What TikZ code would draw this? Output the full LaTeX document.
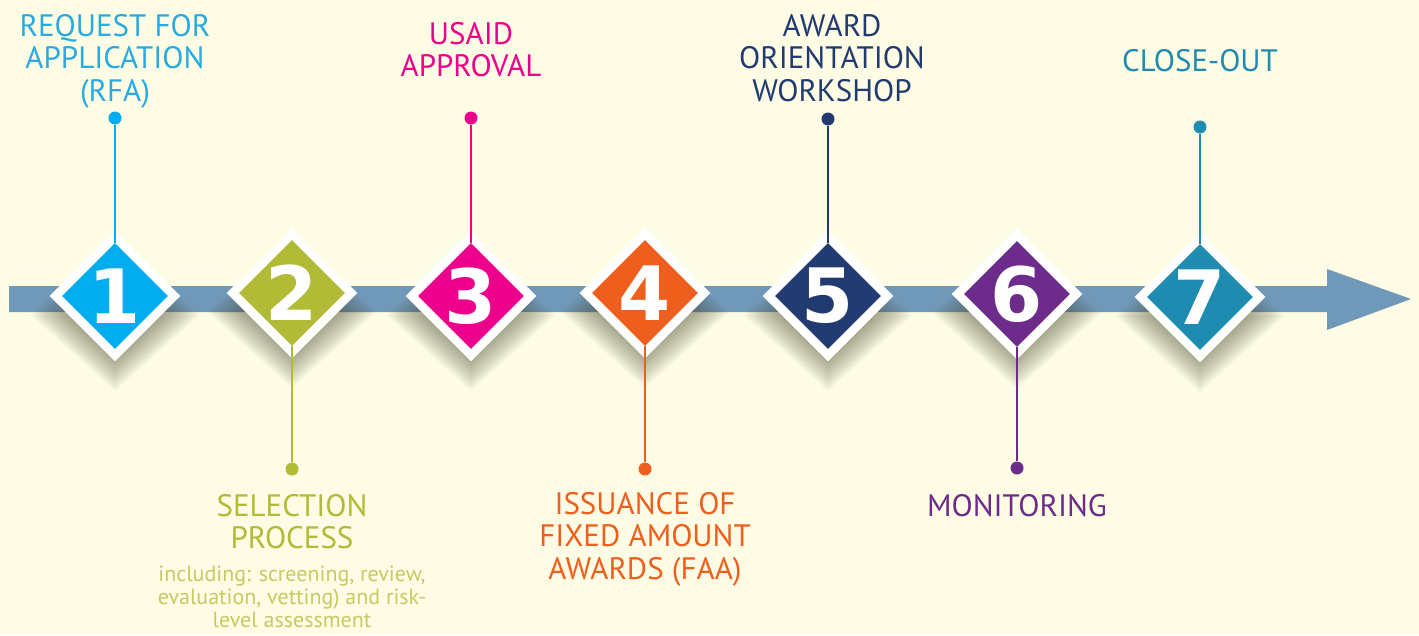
\documentclass[tikz,border=0pt]{standalone}
\usepackage{fontspec}
\setmainfont{PT Sans}
\newfontfamily\digitfont{DejaVu Sans}
\usetikzlibrary{shapes.geometric}
\definecolor{bgc}{HTML}{FEFCE5}
\definecolor{arrowc}{HTML}{7098B8}
\definecolor{shc}{HTML}{4A4A30}
\definecolor{cA}{HTML}{00AEEF}
\definecolor{cB}{HTML}{B1BB35}
\definecolor{cC}{HTML}{EC008C}
\definecolor{cD}{HTML}{EE5F1D}
\definecolor{cE}{HTML}{213A6F}
\definecolor{cF}{HTML}{6D2C8C}
\definecolor{cG}{HTML}{1F8BB1}
\definecolor{tA}{HTML}{29ABE2}
\definecolor{tS}{HTML}{C4CB62}
\tikzset{
  outerd/.style={diamond, aspect=1, minimum width=131pt, minimum height=131pt, inner sep=0pt, fill=white},
  innerd/.style={diamond, aspect=1, minimum width=106pt, minimum height=106pt, inner sep=0pt, fill=#1},
  digit/.style={text=white, inner sep=0pt, font=\digitfont\bfseries\fontsize{75}{75}\selectfont},
  pindot/.style={circle, fill=#1, minimum size=13pt, inner sep=0pt},
  pinline/.style={draw=#1, line width=2pt},
  shadowlayer/.style={fill=shc, fill opacity=0.048},
  lbl/.style={text=#1, align=center, inner sep=0pt, anchor=north, font=\fontsize{31}{32.5}\selectfont},
  small/.style={text=tS, align=center, inner sep=0pt, anchor=north, font=\fontsize{22}{23}\selectfont}
}
\begin{document}
\begin{tikzpicture}[x=1pt,y=-1pt]
\fill[bgc] (0,0) rectangle (1419,635);
\useasboundingbox (0,0) rectangle (1419,635);
% arrow
\fill[arrowc] (9,286) -- (1327,286) -- (1327,269) -- (1411,299) -- (1327,330) -- (1327,312) -- (9,312) -- cycle;
% soft shadows
\foreach \x/\y in {115/296, 292/293, 471/296, 645/293, 828/296, 1017/294, 1200/297}{
  \foreach \k in {0,...,17}{
    \pgfmathsetmacro{\r}{84-3*\k}
    \fill[shadowlayer] (\x-\r,\y+19) -- (\x,\y+19-\r*0.9) -- (\x+\r,\y+19) -- (\x,\y+19+\r*0.9) -- cycle;
  }
}
% diamonds
\foreach \i/\x/\y/\c in {1/115/296/cA, 2/292/293/cB, 3/471/296/cC, 4/645/293/cD, 5/828/296/cE, 6/1017/294/cF, 7/1200/297/cG}{
  \node[outerd] (o\i) at (\x,\y) {};
  \node[innerd=\c] (i\i) at (\x,\y) {};
  \node[digit] (n\i) at (\x,\y) {\i};
}
% pins
\node[pindot=cA] (p1) at (115,118) {};
\node[pindot=cB] (p2) at (292,469) {};
\node[pindot=cC] (p3) at (471,118) {};
\node[pindot=cD] (p4) at (645,469) {};
\node[pindot=cE] (p5) at (828,119) {};
\node[pindot=cF] (p6) at (1017,468) {};
\node[pindot=cG] (p7) at (1200,127) {};
\draw[pinline=cA] (p1) -- (i1.north);
\draw[pinline=cB] (i2.south) -- (p2);
\draw[pinline=cC] (p3) -- (i3.north);
\draw[pinline=cD] (i4.south) -- (p4);
\draw[pinline=cE] (p5) -- (i5.north);
\draw[pinline=cF] (i6.south) -- (p6);
\draw[pinline=cG] (p7) -- (i7.north);
% labels
\node[lbl=tA] (l1) at (115,14) {REQUEST FOR\\APPLICATION\\(RFA)};
\node[lbl=cB] (l2) at (292,494) {SELECTION\\PROCESS};
\node[small] (s2) at (292,566) {including: screening, review,\\evaluation, vetting) and risk-\\level assessment};
\node[lbl=cC] (l3) at (471,22) {USAID\\APPROVAL};
\node[lbl=cD] (l4) at (645,492) {ISSUANCE OF\\FIXED AMOUNT\\AWARDS (FAA)};
\node[lbl=cE] (l5) at (832,14) {AWARD\\ORIENTATION\\WORKSHOP};
\node[lbl=cF] (l6) at (1017,494) {MONITORING};
\node[lbl=cG] (l7) at (1200,49) {CLOSE-OUT};
\end{tikzpicture}
\end{document}
